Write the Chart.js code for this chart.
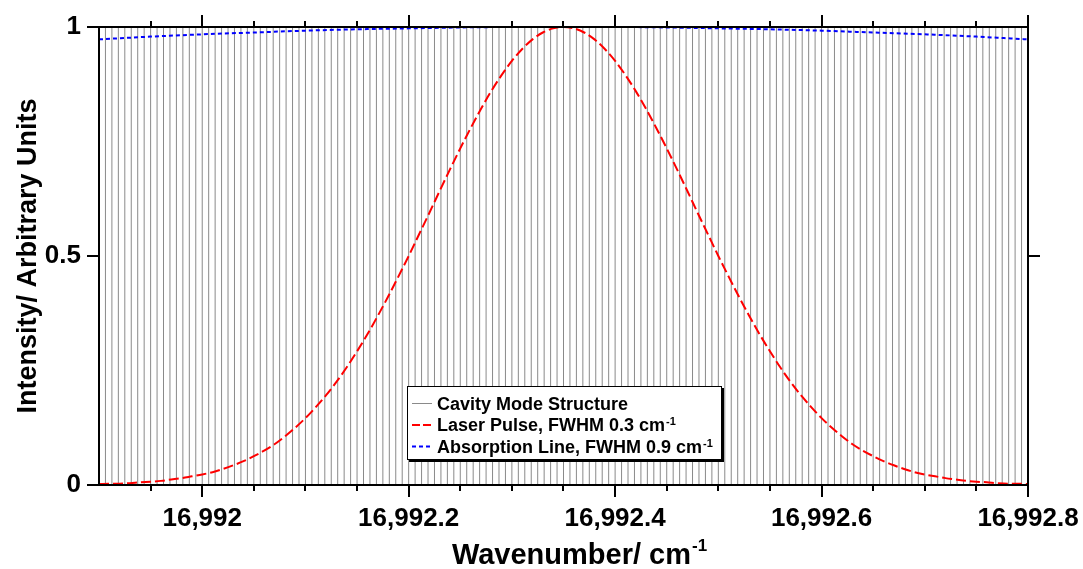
<!DOCTYPE html>
<html>
<head>
<meta charset="utf-8">
<title>Cavity modes, laser pulse and absorption line</title>
<script src="https://cdn.jsdelivr.net/npm/chart.js@4"></script>
<style>
  html, body { margin: 0; padding: 0; background: #fff; }
  canvas { display: block; }
</style>
</head>
<body>
<canvas id="spectrum" width="1083" height="569"></canvas>
<script>
// cavity mode positions (cm-1)
const modes = [
  16991.90000, 16991.90625, 16991.91250, 16991.91875, 16991.92500, 16991.93125, 16991.93750, 16991.94375,
  16991.95000, 16991.95625, 16991.96250, 16991.96875, 16991.97500, 16991.98125, 16991.98750, 16991.99375,
  16992.00000, 16992.00625, 16992.01250, 16992.01875, 16992.02500, 16992.03125, 16992.03750, 16992.04375,
  16992.05000, 16992.05625, 16992.06250, 16992.06875, 16992.07500, 16992.08125, 16992.08750, 16992.09375,
  16992.10000, 16992.10625, 16992.11250, 16992.11875, 16992.12500, 16992.13125, 16992.13750, 16992.14375,
  16992.15000, 16992.15625, 16992.16250, 16992.16875, 16992.17500, 16992.18125, 16992.18750, 16992.19375,
  16992.20000, 16992.20625, 16992.21250, 16992.21875, 16992.22500, 16992.23125, 16992.23750, 16992.24375,
  16992.25000, 16992.25625, 16992.26250, 16992.26875, 16992.27500, 16992.28125, 16992.28750, 16992.29375,
  16992.30000, 16992.30625, 16992.31250, 16992.31875, 16992.32500, 16992.33125, 16992.33750, 16992.34375,
  16992.35000, 16992.35625, 16992.36250, 16992.36875, 16992.37500, 16992.38125, 16992.38750, 16992.39375,
  16992.40000, 16992.40625, 16992.41250, 16992.41875, 16992.42500, 16992.43125, 16992.43750, 16992.44375,
  16992.45000, 16992.45625, 16992.46250, 16992.46875, 16992.47500, 16992.48125, 16992.48750, 16992.49375,
  16992.50000, 16992.50625, 16992.51250, 16992.51875, 16992.52500, 16992.53125, 16992.53750, 16992.54375,
  16992.55000, 16992.55625, 16992.56250, 16992.56875, 16992.57500, 16992.58125, 16992.58750, 16992.59375,
  16992.60000, 16992.60625, 16992.61250, 16992.61875, 16992.62500, 16992.63125, 16992.63750, 16992.64375,
  16992.65000, 16992.65625, 16992.66250, 16992.66875, 16992.67500, 16992.68125, 16992.68750, 16992.69375,
  16992.70000, 16992.70625, 16992.71250, 16992.71875, 16992.72500, 16992.73125, 16992.73750, 16992.74375,
  16992.75000, 16992.75625, 16992.76250, 16992.76875, 16992.77500, 16992.78125, 16992.78750, 16992.79375,
  16992.80000
];

// laser pulse profile
const laserX = [
  16991.90, 16991.91, 16991.92, 16991.93, 16991.94, 16991.95, 16991.96, 16991.97, 16991.98, 16991.99,
  16992.00, 16992.01, 16992.02, 16992.03, 16992.04, 16992.05, 16992.06, 16992.07, 16992.08, 16992.09,
  16992.10, 16992.11, 16992.12, 16992.13, 16992.14, 16992.15, 16992.16, 16992.17, 16992.18, 16992.19,
  16992.20, 16992.21, 16992.22, 16992.23, 16992.24, 16992.25, 16992.26, 16992.27, 16992.28, 16992.29,
  16992.30, 16992.31, 16992.32, 16992.33, 16992.34, 16992.35, 16992.36, 16992.37, 16992.38, 16992.39,
  16992.40, 16992.41, 16992.42, 16992.43, 16992.44, 16992.45, 16992.46, 16992.47, 16992.48, 16992.49,
  16992.50, 16992.51, 16992.52, 16992.53, 16992.54, 16992.55, 16992.56, 16992.57, 16992.58, 16992.59,
  16992.60, 16992.61, 16992.62, 16992.63, 16992.64, 16992.65, 16992.66, 16992.67, 16992.68, 16992.69,
  16992.70, 16992.71, 16992.72, 16992.73, 16992.74, 16992.75, 16992.76, 16992.77, 16992.78, 16992.79,
  16992.80
];
const laserY = [
  0.002, 0.003, 0.003, 0.004, 0.006, 0.007, 0.009, 0.012, 0.015, 0.019,
  0.023, 0.028, 0.035, 0.043, 0.052, 0.063, 0.075, 0.089, 0.106, 0.125,
  0.146, 0.170, 0.196, 0.225, 0.257, 0.292, 0.329, 0.369, 0.411, 0.455,
  0.500, 0.547, 0.594, 0.642, 0.689, 0.735, 0.779, 0.821, 0.860, 0.895,
  0.926, 0.952, 0.973, 0.988, 0.997, 1.000, 0.997, 0.988, 0.973, 0.952,
  0.926, 0.895, 0.860, 0.821, 0.779, 0.735, 0.689, 0.642, 0.594, 0.547,
  0.500, 0.455, 0.411, 0.369, 0.329, 0.292, 0.257, 0.225, 0.196, 0.170,
  0.146, 0.125, 0.106, 0.089, 0.075, 0.063, 0.052, 0.043, 0.035, 0.028,
  0.023, 0.019, 0.015, 0.012, 0.009, 0.007, 0.006, 0.004, 0.003, 0.003,
  0.002
];

// absorption line profile
const absorbX = [
  16991.90, 16991.95, 16992.00, 16992.05, 16992.10, 16992.15, 16992.20, 16992.25, 16992.30, 16992.35,
  16992.40, 16992.45, 16992.50, 16992.55, 16992.60, 16992.65, 16992.70, 16992.75, 16992.80
];
const absorbY = [
  0.973, 0.979, 0.984, 0.988, 0.992, 0.995, 0.997, 0.999, 1.000, 1.000,
  1.000, 0.999, 0.997, 0.995, 0.992, 0.988, 0.984, 0.979, 0.973
];

const xTicks = [16992, 16992.2, 16992.4, 16992.6, 16992.8];
const xTickLabels = ['16,992', '16,992.2', '16,992.4', '16,992.6', '16,992.8'];
const xMinorTicks = [
  16991.95, 16992.05, 16992.1, 16992.15, 16992.25, 16992.3, 16992.35,
  16992.45, 16992.5, 16992.55, 16992.65, 16992.7, 16992.75
];
const yTicks = [0, 0.5, 1];
const yTickLabels = ['0', '0.5', '1'];

const FONT = '"Liberation Sans", Arial, Helvetica, sans-serif';

const legendItems = [
  { text: 'Cavity Mode Structure', sup: '', color: '#8a8a8a', width: 1, dash: [] },
  { text: 'Laser Pulse, FWHM 0.3 cm', sup: '-1', color: '#ff0000', width: 2, dash: [8, 3] },
  { text: 'Absorption Line, FWHM 0.9 cm', sup: '-1', color: '#0000ff', width: 2, dash: [4, 3] }
];

// one vertical segment per mode, separated by gaps
const modePoints = [];
modes.forEach(m => {
  modePoints.push({ x: m, y: 0 }, { x: m, y: 1 }, { x: m, y: null });
});

// labels sit past an invisible tick mark so the label padding stays 0
const hiddenGrid = { display: true, drawOnChartArea: false, drawTicks: true, tickLength: 18, color: 'rgba(0,0,0,0)' };

// plot box and outward tick marks on all four sides
const framePlugin = {
  id: 'frame',
  afterDatasetsDraw(chart) {
    const { ctx, chartArea: a, scales: { x, y } } = chart;
    ctx.save();
    ctx.strokeStyle = '#000';
    ctx.lineWidth = 2;
    ctx.strokeRect(a.left, a.top, a.right - a.left, a.bottom - a.top);
    ctx.beginPath();
    xTicks.forEach(v => {
      const px = Math.round(x.getPixelForValue(v));
      ctx.moveTo(px, a.top - 12); ctx.lineTo(px, a.top);
      ctx.moveTo(px, a.bottom); ctx.lineTo(px, a.bottom + 12);
    });
    xMinorTicks.forEach(v => {
      const px = Math.round(x.getPixelForValue(v));
      ctx.moveTo(px, a.top - 6); ctx.lineTo(px, a.top);
      ctx.moveTo(px, a.bottom); ctx.lineTo(px, a.bottom + 6);
    });
    yTicks.forEach(v => {
      const py = Math.round(y.getPixelForValue(v));
      ctx.moveTo(a.left - 12, py); ctx.lineTo(a.left, py);
    });
    const mid = Math.round(y.getPixelForValue(0.5));
    ctx.moveTo(a.right, mid); ctx.lineTo(a.right + 12, mid);
    ctx.stroke();
    ctx.restore();
  },
  afterDraw(chart) {
    const { ctx } = chart;
    ctx.save();
    ctx.fillStyle = '#000';
    ctx.textBaseline = 'alphabetic';

    // x axis title with superscript
    const main = 'Wavenumber/ cm';
    ctx.font = 'bold 29px ' + FONT;
    const wMain = ctx.measureText(main).width;
    ctx.font = 'bold 17px ' + FONT;
    const wSup = ctx.measureText('-1').width;
    const tx = 579 - (wMain + wSup) / 2;
    ctx.font = 'bold 29px ' + FONT;
    ctx.fillText(main, tx, 564);
    ctx.font = 'bold 17px ' + FONT;
    ctx.fillText('-1', tx + wMain + 1, 551);

    // legend box with drop shadow
    const bx = 407, by = 386, bw = 314, bh = 73;
    ctx.fillStyle = '#000';
    ctx.fillRect(bx + 2, by + 2, bw + 1, bh + 1);
    ctx.fillStyle = '#fff';
    ctx.fillRect(bx, by, bw, bh);
    ctx.strokeStyle = '#000';
    ctx.lineWidth = 1;
    ctx.strokeRect(bx + 0.5, by + 0.5, bw, bh);

    const baselines = [409.5, 431, 452.5];
    legendItems.forEach((it, i) => {
      const yb = baselines[i];
      ctx.save();
      ctx.strokeStyle = it.color;
      ctx.lineWidth = it.width;
      ctx.setLineDash(it.dash);
      ctx.beginPath();
      ctx.moveTo(412, yb - 6);
      ctx.lineTo(432, yb - 6);
      ctx.stroke();
      ctx.restore();
      ctx.fillStyle = '#000';
      ctx.font = 'bold 18px ' + FONT;
      ctx.fillText(it.text, 437, yb);
      if (it.sup) {
        const w = ctx.measureText(it.text).width;
        ctx.font = 'bold 11px ' + FONT;
        ctx.fillText(it.sup, 437 + w + 1, yb - 6);
      }
    });
    ctx.restore();
  }
};

new Chart(document.getElementById('spectrum'), {
  type: 'line',
  data: {
    datasets: [
      {
        label: 'Absorption Line, FWHM 0.9 cm-1',
        data: absorbX.map((v, i) => ({ x: v, y: absorbY[i] })),
        borderColor: '#0000ff',
        borderWidth: 2,
        borderDash: [4, 3],
        pointRadius: 0,
        cubicInterpolationMode: 'monotone',
        fill: false
      },
      {
        label: 'Laser Pulse, FWHM 0.3 cm-1',
        data: laserX.map((v, i) => ({ x: v, y: laserY[i] })),
        borderColor: '#ff0000',
        borderWidth: 2,
        borderDash: [10, 4],
        pointRadius: 0,
        cubicInterpolationMode: 'monotone',
        fill: false
      },
      {
        label: 'Cavity Mode Structure',
        data: modePoints,
        borderColor: '#8a8a8a',
        borderWidth: 1,
        pointRadius: 0,
        spanGaps: false,
        fill: false
      }
    ]
  },
  options: {
    responsive: false,
    maintainAspectRatio: false,
    devicePixelRatio: 1,
    animation: false,
    events: [],
    layout: { padding: { top: 27, right: 55, left: 0, bottom: 0 } },
    plugins: {
      legend: { display: false },
      tooltip: { enabled: false }
    },
    scales: {
      x: {
        type: 'linear',
        min: 16991.9,
        max: 16992.8,
        grid: hiddenGrid,
        border: { display: false },
        afterBuildTicks: scale => { scale.ticks = xTicks.map(v => ({ value: v })); },
        afterFit: scale => { scale.height = 84; },
        ticks: {
          padding: 0,
          maxRotation: 0,
          color: '#000',
          font: { family: FONT, size: 26, weight: 'bold' },
          callback: (v, i) => xTickLabels[i]
        }
      },
      y: {
        type: 'linear',
        min: 0,
        max: 1,
        grid: hiddenGrid,
        border: { display: false },
        afterBuildTicks: scale => { scale.ticks = yTicks.map(v => ({ value: v })); },
        afterFit: scale => { scale.width = 99; },
        ticks: {
          padding: 0,
          color: '#000',
          font: { family: FONT, size: 26, weight: 'bold' },
          callback: (v, i) => yTickLabels[i]
        },
        title: {
          display: true,
          text: 'Intensity/ Arbitrary Units',
          color: '#000',
          font: { family: FONT, size: 27, weight: 'bold' },
          padding: { top: 12, bottom: 0 }
        }
      }
    }
  },
  plugins: [framePlugin]
});
</script>
</body>
</html>
